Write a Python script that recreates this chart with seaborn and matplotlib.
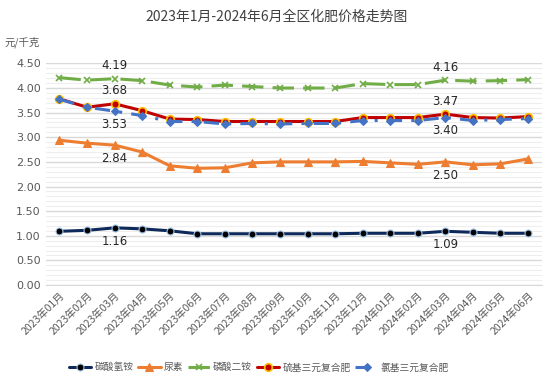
import numpy as np
import pandas as pd
import matplotlib.pyplot as plt
from matplotlib.ticker import MultipleLocator
import seaborn as sns

months = ["2023年01月", "2023年02月", "2023年03月", "2023年04月", "2023年05月", "2023年06月",
          "2023年07月", "2023年08月", "2023年09月", "2023年10月", "2023年11月", "2023年12月",
          "2024年01月", "2024年02月", "2024年03月", "2024年04月", "2024年05月", "2024年06月"]

tan_suan_qing_an = [1.09, 1.11, 1.16, 1.14, 1.10, 1.04, 1.04, 1.04, 1.04, 1.04, 1.04, 1.05,
                    1.05, 1.05, 1.09, 1.07, 1.05, 1.05]
niao_su = [2.94, 2.88, 2.84, 2.70, 2.42, 2.37, 2.38, 2.48, 2.50, 2.50, 2.50, 2.51,
           2.48, 2.45, 2.50, 2.44, 2.46, 2.56]
lin_suan_er_an = [4.21, 4.16, 4.19, 4.15, 4.06, 4.02, 4.06, 4.03, 4.00, 4.00, 4.00, 4.09,
                  4.07, 4.07, 4.16, 4.14, 4.15, 4.17]
liu_ji = [3.78, 3.61, 3.68, 3.54, 3.37, 3.36, 3.32, 3.32, 3.32, 3.32, 3.32, 3.40,
          3.40, 3.40, 3.47, 3.40, 3.39, 3.42]
lv_ji = [3.77, 3.61, 3.53, 3.44, 3.32, 3.32, 3.27, 3.28, 3.27, 3.28, 3.28, 3.34,
         3.34, 3.34, 3.40, 3.34, 3.36, 3.38]

names = ["碳酸氢铵", "尿素", "磷酸二铵", "硫基三元复合肥", "氯基三元复合肥"]

sns.set_style("white")
plt.rcParams['font.family'] = ['Noto Sans CJK SC', 'DejaVu Sans']

fig = plt.figure(figsize=(5.54, 3.82), dpi=100)
ax = fig.add_axes([0.0825, 0.254, 0.8955, 0.58])

x = np.arange(len(months))

# each series drawn separately so the styles can differ
sns.lineplot(x=x, y=tan_suan_qing_an, ax=ax, color="#0e2a5a", lw=2.2, marker="o", ms=5,
             mfc="black", mec="#9dc3e6", mew=0.8, label=names[0])
sns.lineplot(x=x, y=niao_su, ax=ax, color="#ed7d31", lw=2.2, marker="^", ms=6,
             mfc="#ed7d31", mec="#ed7d31", label=names[1])
sns.lineplot(x=x, y=lin_suan_er_an, ax=ax, color="#70ad47", lw=2.2, marker="x", ms=5,
             mew=1.2, mec="#70ad47", label=names[2])
ax.lines[-1].set_dashes([7, 3])
sns.lineplot(x=x, y=liu_ji, ax=ax, color="#c00000", lw=2.2, marker="o", ms=5.5,
             mfc="#c00000", mec="#ffc000", mew=1.2, label=names[3])
sns.lineplot(x=x, y=lv_ji, ax=ax, color="#4472c4", lw=2.2, marker="D", ms=4.5,
             mfc="#4472c4", mec="#4472c4", label=names[4])
ax.lines[-1].set_dashes([5, 3, 1, 3])

# value labels for two months
for i in [2, 14]:
    ax.text(x[i], lin_suan_er_an[i] + 0.13, f"{lin_suan_er_an[i]:.2f}", ha="center", va="bottom",
            fontsize=8.5, color="#262626", family="DejaVu Sans")
    ax.text(x[i], liu_ji[i] + 0.13, f"{liu_ji[i]:.2f}", ha="center", va="bottom",
            fontsize=8.5, color="#262626", family="DejaVu Sans")
    ax.text(x[i], lv_ji[i] - 0.14, f"{lv_ji[i]:.2f}", ha="center", va="top",
            fontsize=8.5, color="#262626", family="DejaVu Sans")
    ax.text(x[i], niao_su[i] - 0.14, f"{niao_su[i]:.2f}", ha="center", va="top",
            fontsize=8.5, color="#262626", family="DejaVu Sans")
    ax.text(x[i], tan_suan_qing_an[i] - 0.14, f"{tan_suan_qing_an[i]:.2f}", ha="center", va="top",
            fontsize=8.5, color="#262626", family="DejaVu Sans")

ax.set_xlim(-0.5, len(months) - 0.5)
ax.set_ylim(0, 4.5)
ax.yaxis.set_minor_locator(MultipleLocator(0.1))
ax.set_yticks(np.arange(0, 4.51, 0.5))
ax.set_yticklabels([f"{v:.2f}" for v in np.arange(0, 4.51, 0.5)], fontsize=8,
                   color="#595959", family="DejaVu Sans")
ax.grid(axis="y", which="major", color="#d9d9d9", lw=1)
ax.grid(axis="y", which="minor", color="#eeeeee", lw=0.8)
ax.set_axisbelow(True)

ax.set_xticks(x)
ax.set_xticklabels(months, rotation=45, ha="right", rotation_mode="anchor", fontsize=7.5,
                   color="#595959")
ax.tick_params(axis="x", which="major", length=0, pad=4)
ax.set_xticks(np.arange(-0.5, len(months), 1), minor=True)
ax.tick_params(axis="x", which="minor", length=4, color="#d9d9d9")
ax.tick_params(axis="y", length=0)

for s in ["top", "right", "left"]:
    ax.spines[s].set_visible(False)
ax.spines["bottom"].set_color("#d9d9d9")

fig.text(0.5, 0.955, "2023年1月-2024年6月全区化肥价格走势图", ha="center", va="center",
         fontsize=10, color="#404040")
fig.text(0.008, 0.89, "元/千克", ha="left", va="center", fontsize=7.5, color="#595959")

ax.legend(loc="upper center", bbox_to_anchor=(0.43, -0.31), ncol=5, frameon=False,
          fontsize=7, handlelength=2.3, handletextpad=0.3, columnspacing=0.5, labelcolor="#595959")

fig.savefig("out.png", dpi=100)
